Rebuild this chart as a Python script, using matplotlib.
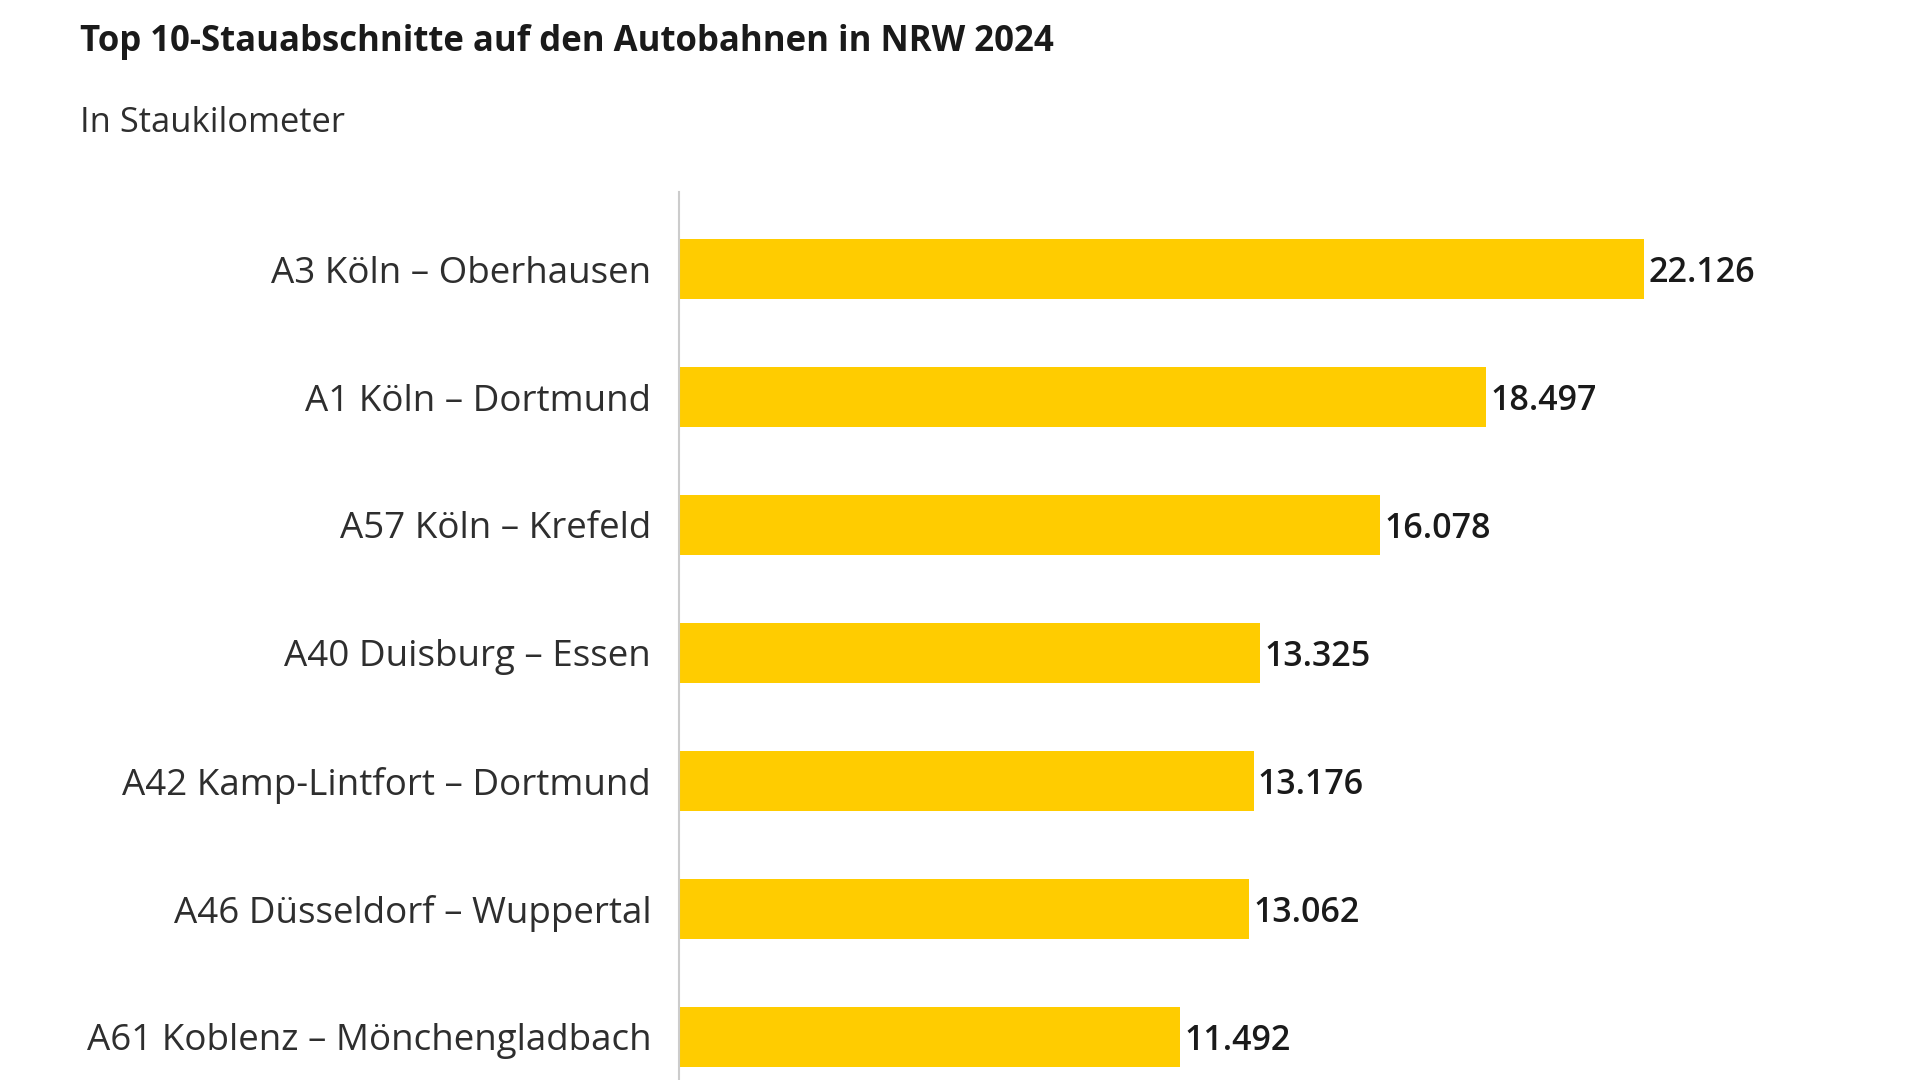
import matplotlib
matplotlib.use("Agg")
import matplotlib.pyplot as plt

categories = [
    "A3 Köln – Oberhausen",
    "A1 Köln – Dortmund",
    "A57 Köln – Krefeld",
    "A40 Duisburg – Essen",
    "A42 Kamp-Lintfort – Dortmund",
    "A46 Düsseldorf – Wuppertal",
    "A61 Koblenz – Mönchengladbach",
]
values = [22126, 18497, 16078, 13325, 13176, 13062, 11492]
value_labels = ["22.126", "18.497", "16.078", "13.325", "13.176", "13.062", "11.492"]

title = "Top 10-Stauabschnitte auf den Autobahnen in NRW 2024"
subtitle = "In Staukilometer"

BAR = "#FFCC00"
TXT = "#1a1a1a"
LBL = "#2e2e2e"
FONT = "Open Sans"

W, H = 1920, 1080
fig = plt.figure(figsize=(W / 100, H / 100), dpi=100)
ax_left = 679 / W
ax_right = (679 + 25000 * 0.04361) / W
ax = fig.add_axes([ax_left, 0, ax_right - ax_left, 1 - 192 / H])

y = list(range(len(categories)))
ax.barh(y, values, height=0.475, color=BAR, zorder=2)
ax.set_xlim(0, 25000)
ax.set_ylim(6.336, -0.6016)

for yi, v, lab in zip(y, values, value_labels):
    ax.text(v + 100, yi, lab, va="center_baseline", ha="left", fontsize=24.5,
            fontweight="semibold", color=TXT, family=FONT)

ax.set_yticks(y)
ax.set_yticklabels(categories, fontsize=26.5, color=LBL, family=FONT)
ax.tick_params(axis="y", length=0, pad=20)
ax.set_xticks([])
for s in ["top", "right", "bottom"]:
    ax.spines[s].set_visible(False)
ax.spines["left"].set_color("#cccccc")
ax.spines["left"].set_linewidth(1.5)

fig.text(80 / W, 1 - 42 / H, title, fontsize=25, fontweight="bold", color=TXT,
         family=FONT, va="center", ha="left")
fig.text(80 / W, 1 - 123 / H, subtitle, fontsize=24.8, color=LBL,
         family=FONT, va="center", ha="left")

fig.savefig("out.png", dpi=100, facecolor="white")
